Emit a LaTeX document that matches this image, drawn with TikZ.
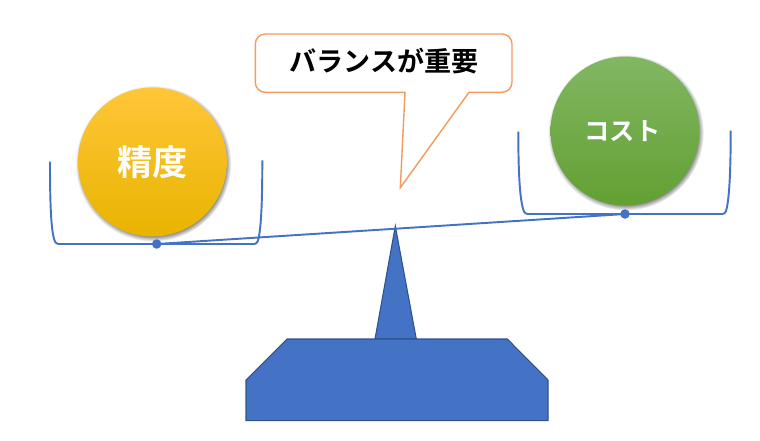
\documentclass[tikz,border=0pt]{standalone}
\usepackage{fontspec}
\newfontfamily\cjkbold{Noto Sans CJK JP Bold}
\definecolor{panblue}{HTML}{4472C4}
\definecolor{edgeblue}{HTML}{2F528F}
\definecolor{tailorange}{HTML}{F29A5F}
\definecolor{goldtop}{HTML}{FFC638}
\definecolor{goldmid}{HTML}{FFC000}
\definecolor{goldlow}{HTML}{E8B400}
\definecolor{greentop}{HTML}{82B763}
\definecolor{greenmid}{HTML}{70AD47}
\definecolor{greenlow}{HTML}{62A032}
\pgfdeclareradialshading{softdisc}{\pgfpoint{0bp}{0bp}}{color(0bp)=(black!60); color(22.6bp)=(black!60); color(25bp)=(white); color(50bp)=(white)}
\tikzset{
	weight/.style={circle,minimum size=2.98cm,inner sep=0pt,text=white,font=\cjkbold},
	pan/.style={draw=panblue,line width=1.1pt,rounded corners=1.5pt},
	pivot/.style={circle,fill=panblue,minimum size=0.19cm,inner sep=0pt},
	stand/.style={draw=edgeblue,fill=panblue,line width=0.6pt},
}
\begin{document}
\begin{tikzpicture}[x=0.02cm,y=-0.02cm]
	\useasboundingbox (0,0) rectangle (760,440);
	\draw[stand] (395.3,226)--(416.3,339)--(375,339)--cycle;
	\draw[stand] (287,339)--(507.3,339)--(548,380)--(548,420.7)--(246,420.7)--(246,380)--cycle;
	\draw[tailorange,line width=0.8pt,fill=white]
		(265.3,34)--(502,34) arc[start angle=90,end angle=0,x radius=10,y radius=-10]
		--(512,82.3) arc[start angle=0,end angle=-90,x radius=10,y radius=-10]
		--(469,92.3)--(400.3,187.7)--(405,92.3)--(265.3,92.3)
		arc[start angle=-90,end angle=-180,x radius=10,y radius=-10]
		--(255.3,44) arc[start angle=180,end angle=90,x radius=10,y radius=-10]--cycle;
	\node[font=\cjkbold\fontsize{15.4pt}{18pt}\selectfont] (balance) at (384,61) {バランスが重要};
	\shade[shading=softdisc] (153.2,163.5) circle (78);
	\shade[shading=softdisc] (625.8,132.5) circle (78);
	\node[weight,top color=goldtop,middle color=goldmid,bottom color=goldlow] (accuracy) at (152.4,162) {\fontsize{20pt}{24pt}\selectfont 精度};
	\node[weight,top color=greentop,middle color=greenmid,bottom color=greenlow] (cost) at (625,131) {\hspace{-3pt}\fontsize{14.4pt}{17pt}\selectfont コスト};
	\node[pivot] (leftdot) at (156.7,244) {};
	\node[pivot] (rightdot) at (625,214) {};
	\draw[pan] (50,161.7) .. controls (50,205) and (51,232) .. (56,244)--(leftdot.center)--(256.7,244) .. controls (261,232) and (262.3,205) .. (262.3,160.3);
	\draw[pan] (518.3,131.7) .. controls (518.3,175) and (520,202) .. (525,214)--(rightdot.center)--(725,214) .. controls (729,202) and (730.7,175) .. (730.7,130.7);
	\draw[panblue,line width=1.1pt] (leftdot.center)--(rightdot.center);
\end{tikzpicture}
\end{document}
